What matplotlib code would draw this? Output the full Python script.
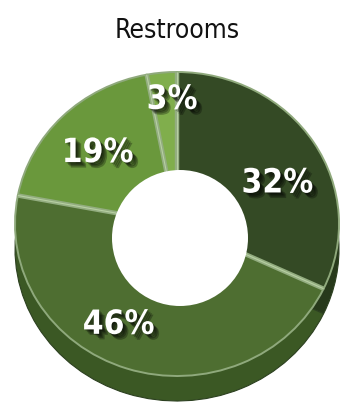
import numpy as np
import matplotlib.pyplot as plt
import matplotlib.patheffects as pe
from matplotlib.patches import Ellipse

title = "Restrooms"
values = [32, 46, 19, 3]
labels = ["32%", "46%", "19%", "3%"]
top_colors = ["#344a25", "#4e6e31", "#6a983c", "#80ae4c"]
side_colors = ["#27391b", "#3b5824", "#557d2f", "#6a9540"]

# label spots in pie units (x, y) relative to the pie centre
label_pos = [(0.62, 0.27), (-0.36, -0.66), (-0.49, 0.47), (-0.03, 0.82)]

# pixel geometry of the tilted donut
W, H = 350, 409
cx, cy = 177, 224          # centre of top face, px from top-left
rx, ry = 162, 152          # outer radii of the top face
hole_c = (180, 238)
hole_r = 68
depth = 25

fig = plt.figure(figsize=(W / 100, H / 100), dpi=100)
ax = fig.add_axes([0, 0, 1, 1])

# pie units: 1 unit = rx px horizontally, ry px vertically
start = 90
ax.pie(values, colors=side_colors, startangle=start, counterclock=False,
       center=(0, -depth / ry), radius=1, frame=False,
       wedgeprops=dict(edgecolor="#2c4020", linewidth=0.8))
wedges, _ = ax.pie(values, colors=top_colors, startangle=start, counterclock=False,
                   center=(0, 0), radius=1, frame=False,
                   wedgeprops=dict(edgecolor="#8fa97c", linewidth=1.4))

# light bevel along each slice boundary
cum = np.cumsum([0] + values)
for c in cum[:-1]:
    ang = np.deg2rad(start - 360 * c / sum(values))
    ax.plot([0, np.cos(ang)], [0, np.sin(ang)], color="#93ad80", lw=3.2,
            solid_capstyle="butt", zorder=3)
    ax.plot([0, np.cos(ang)], [0, np.sin(ang)], color="#b7cfa3", lw=0.8,
            solid_capstyle="butt", zorder=3)

# the hole
hx = (hole_c[0] - cx) / rx
hy = -(hole_c[1] - cy) / ry
ax.add_patch(Ellipse((hx, hy), 2 * hole_r / rx, 2 * hole_r / ry,
                     facecolor="white", edgecolor="none", zorder=4))

# soft drop shadow built from a few stacked offsets
shadow = [pe.SimplePatchShadow(offset=(d, -d), shadow_rgbFace="black", alpha=0.28)
          for d in (1, 2, 3, 4)] + [pe.Normal()]
for txt, (lx, ly) in zip(labels, label_pos):
    ax.text(lx, ly, txt, ha="center", va="center", color="white",
            fontsize=24, fontweight="bold", family="DejaVu Sans",
            fontstretch="condensed", path_effects=shadow, zorder=5)

ax.text(0, (cy - 31) / ry, title, ha="center", va="center", fontsize=19,
        family="DejaVu Sans", fontstretch="condensed", color="#111111", zorder=5)

ax.set_aspect("auto")
ax.set_xlim(-cx / rx, (W - cx) / rx)
ax.set_ylim(-(H - cy) / ry, cy / ry)
ax.axis("off")

fig.savefig("out.png", dpi=100)
